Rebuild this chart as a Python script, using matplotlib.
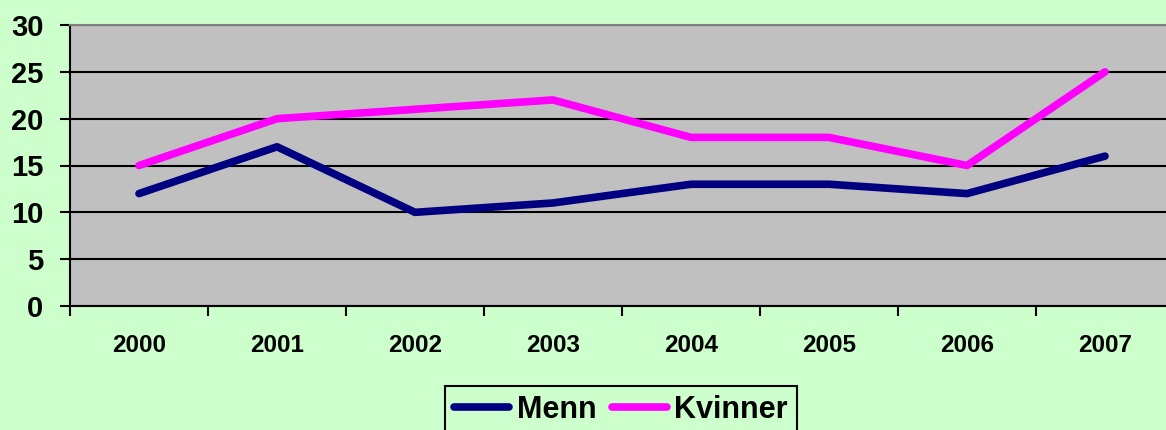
import numpy as np
import matplotlib.pyplot as plt

# data
years = ['2000', '2001', '2002', '2003', '2004', '2005', '2006', '2007']
menn = [12, 17, 10, 11, 13, 13, 12, 16]
kvinner = [15, 20, 21, 22, 18, 18, 15, 25]

plt.rcParams['font.family'] = ['Liberation Sans', 'DejaVu Sans']
plt.rcParams['font.weight'] = 'bold'

bg = '#CCFFCC'
fig = plt.figure(figsize=(11.66, 4.30), dpi=100, facecolor=bg)
# plot area runs off the right edge in the original
ax = fig.add_axes([70 / 1166, 124 / 430, 1104 / 1166, 281 / 430])
ax.set_facecolor('#C0C0C0')

x = np.arange(len(years))
ax.plot(x, menn, color='#000080', lw=5.5, solid_capstyle='round', label='Menn', zorder=3)
ax.plot(x, kvinner, color='#FF00FF', lw=5.5, solid_capstyle='round', label='Kvinner', zorder=3)

ax.set_xlim(-0.5, len(years) - 0.5)
ax.set_ylim(0, 30)
ax.set_yticks(range(0, 31, 5))
ax.yaxis.grid(True, color='black', lw=1.5)
ax.set_axisbelow(True)

# tick marks between categories, labels at category centres
ax.set_xticks(np.arange(-0.5, len(years), 1.0))
ax.set_xticklabels([])
ax.set_xticks(x, minor=True)
ax.set_xticklabels(years, minor=True, fontsize=17.5, fontweight='bold')
ax.tick_params(axis='x', which='major', length=7, width=1.5, direction='out')
ax.tick_params(axis='x', which='minor', length=0, pad=20)
ax.tick_params(axis='y', length=7, width=1.5, direction='out', pad=12, labelsize=21)

for s in ['left', 'bottom']:
    ax.spines[s].set_color('black')
    ax.spines[s].set_linewidth(1.5)
ax.spines['top'].set_color('#808080')
ax.spines['top'].set_linewidth(1.5)
ax.spines['right'].set_visible(False)

leg = fig.legend(loc='upper center', bbox_to_anchor=(0.5326, 0.138), ncol=2,
                 frameon=True, fancybox=False, edgecolor='black',
                 facecolor=bg, framealpha=1, handlelength=1.8, handletextpad=0.25,
                 columnspacing=0.5, borderpad=0.3, prop={'weight': 'bold', 'size': 22})
leg.get_frame().set_linewidth(1.5)

fig.savefig('out.png', dpi=100, facecolor=bg)
